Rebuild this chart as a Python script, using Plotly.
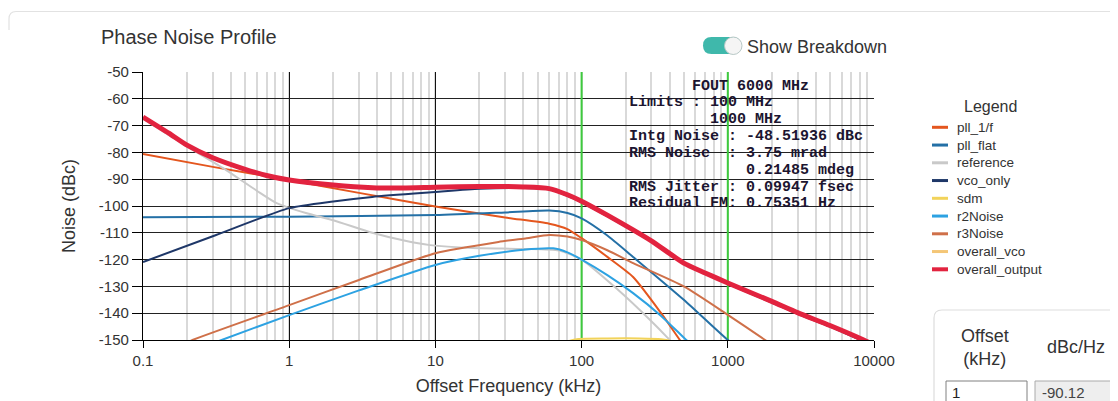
import plotly.graph_objects as go

# ---------------- data ----------------
x_tick_vals = [0.1, 1, 10, 100, 1000, 10000]
x_tick_labels = ["0.1", "1", "10", "100", "1000", "10000"]
y_tick_vals = [-50, -60, -70, -80, -90, -100, -110, -120, -130, -140, -150]
y_tick_labels = ["-50", "-60", "-70", "-80", "-90", "-100", "-110", "-120", "-130", "-140", "-150"]

pll_1f_freq = [0.1, 0.3, 1, 3, 10, 30, 60, 80, 100, 150, 225, 350, 470, 600]
pll_1f_db = [-80.6, -85.4, -90.3, -95.1, -100.2, -104.3, -106.6, -108.6, -112, -119, -126.5, -140, -150, -158]

pll_flat_freq = [0.1, 1, 10, 30, 60, 80, 100, 150, 225, 500, 1000, 1200]
pll_flat_db = [-104.2, -104.0, -103.4, -102.4, -101.7, -102.6, -104.6, -111, -119, -135, -150, -153]

reference_freq = [0.1, 0.2, 0.37, 0.6, 0.82, 1.3, 2, 3.7, 6, 9.2, 18, 40, 70, 100, 175, 300, 385, 450]
reference_db = [-67.5, -77.8, -86.6, -94.3, -98.9, -102.6, -105.3, -110, -112.8, -114.6, -115.7, -116, -116.6, -120, -131, -143, -149, -153]

vco_only_freq = [0.1, 0.3, 1, 2, 3.7, 10, 20, 40, 60, 80, 100, 150, 225, 300, 500, 1000, 2000, 3000, 5000, 8500, 12000]
vco_only_db = [-120.9, -111.3, -100.8, -98.3, -96.6, -94.8, -93.6, -93.3, -93.8, -96.2, -98.6, -103.8, -109.3, -113.3, -121.5, -129, -136, -140.2, -145, -150.5, -154]

sdm_freq = [60, 80, 95, 150, 250, 350, 420, 500]
sdm_db = [-154, -150.6, -149.6, -149.4, -149.4, -149.7, -150.6, -153]

r2noise_freq = [0.3, 0.345, 1, 3, 10, 20, 40, 64, 80, 100, 150, 225, 350, 520, 600]
r2noise_db = [-151.2, -150, -140.7, -131.5, -122, -118.6, -116.3, -115.8, -117.3, -120, -125.8, -132.5, -141, -150, -153]

r3noise_freq = [0.2, 0.218, 1, 3, 10, 27, 42, 60, 80, 100, 150, 225, 500, 1000, 1800, 2100]
r3noise_db = [-151, -150, -137, -127.6, -117.6, -113.4, -112, -110.8, -111.4, -112.7, -116.5, -121.3, -130, -140.6, -150, -152.5]

overall_vco_freq = []
overall_vco_db = []

overall_output_freq = [0.1, 0.15, 0.2, 0.3, 0.5, 0.7, 1, 2, 3.7, 6, 10, 20, 40, 60, 80, 100, 150, 225, 300, 500, 700, 1000, 2000, 3000, 5000, 8500, 12000]
overall_output_db = [-66.8, -72.8, -77.3, -82.0, -86.3, -88.6, -90.3, -92.2, -93.2, -93.3, -93.0, -92.7, -92.9, -93.5, -95.8, -98.2, -103.4, -108.9, -113, -121.3, -125.0, -128.7, -135.6, -139.8, -144.6, -150, -154]

limit_freqs = [100, 1000]

info_lines = [
    "\u00a0" * 7 + "FOUT 6000 MHz",
    "Limits : 100 MHz",
    "\u00a0" * 9 + "1000 MHz",
    "Intg Noise : -48.51936 dBc",
    "RMS Noise\u00a0\u00a0: 3.75 mrad",
    "\u00a0" * 13 + "0.21485 mdeg",
    "RMS Jitter : 0.09947 fsec",
    "Residual FM: 0.75351 Hz",
]

series = [
    ("pll_1/f", pll_1f_freq, pll_1f_db),
    ("pll_flat", pll_flat_freq, pll_flat_db),
    ("reference", reference_freq, reference_db),
    ("vco_only", vco_only_freq, vco_only_db),
    ("sdm", sdm_freq, sdm_db),
    ("r2Noise", r2noise_freq, r2noise_db),
    ("r3Noise", r3noise_freq, r3noise_db),
    ("overall_vco", overall_vco_freq, overall_vco_db),
    ("overall_output", overall_output_freq, overall_output_db),
]

# ---------------- styles ----------------
colors = {
    "pll_1/f": "#E4561E",
    "pll_flat": "#2470A6",
    "reference": "#C9C9C9",
    "vco_only": "#1E3768",
    "sdm": "#F2D35A",
    "r2Noise": "#2DA2E2",
    "r3Noise": "#CF7049",
    "overall_vco": "#F4C676",
    "overall_output": "#E2233F",
}
widths = {"overall_output": 5}
GREEN = "#3DCB3D"
FONT = "Liberation Sans, Arial, sans-serif"
MONO = "Liberation Mono, Courier New, monospace"
TXT = "#333333"

# page geometry (the html body adds an 8px margin)
PAGE_W, PAGE_H, OFF = 1118, 401, 8
W_FIG, H_FIG = PAGE_W - OFF, PAGE_H - OFF
L, R, T, B = 143, 874, 72, 340   # plot area in page pixels


def px(x):
    return (x - L) / (R - L)


def py(y):
    return (B - y) / (B - T)


fig = go.Figure()

# limit markers (green)
for f in limit_freqs:
    fig.add_trace(go.Scatter(x=[f, f], y=[-150, -48.3], mode="lines",
                             line=dict(color=GREEN, width=2), cliponaxis=False,
                             showlegend=False, hoverinfo="skip"))
fig.add_trace(go.Scatter(x=limit_freqs, y=[-48.0] * len(limit_freqs), mode="markers",
                         marker=dict(symbol="triangle-down", size=9, color=GREEN),
                         cliponaxis=False, showlegend=False, hoverinfo="skip"))

for name, fx, fy in series:
    fig.add_trace(go.Scatter(x=fx, y=fy, mode="lines", name=name,
                             line=dict(color=colors[name], width=widths.get(name, 2),
                                       shape="spline", smoothing=0.6),
                             showlegend=False))

shapes = []
annotations = []

# info text block
for i, line in enumerate(info_lines):
    annotations.append(dict(text=line, xref="paper", yref="paper",
                            x=px(627), y=py(86 + i * 16.85), xanchor="left", yanchor="middle",
                            showarrow=False,
                            font=dict(family=MONO, size=15, color="#1c1530", weight="bold")))

# chart title
annotations.append(dict(text="Phase Noise Profile", xref="paper", yref="paper",
                        x=px(99), y=py(37), xanchor="left", yanchor="middle", showarrow=False,
                        font=dict(family=FONT, size=20, color=TXT)))


def rounded_rect(x0, y0, x1, y1, r):
    return (f"M {px(x0 + r)},{py(y0)} L {px(x1 - r)},{py(y0)} Q {px(x1)},{py(y0)} {px(x1)},{py(y0 + r)} "
            f"L {px(x1)},{py(y1 - r)} Q {px(x1)},{py(y1)} {px(x1 - r)},{py(y1)} "
            f"L {px(x0 + r)},{py(y1)} Q {px(x0)},{py(y1)} {px(x0)},{py(y1 - r)} "
            f"L {px(x0)},{py(y0 + r)} Q {px(x0)},{py(y0)} {px(x0 + r)},{py(y0)} Z")


# toggle switch
shapes.append(dict(type="path", xref="paper", yref="paper", path=rounded_rect(703, 37, 741, 54, 8.5),
                   fillcolor="#3FB8AB", line=dict(width=0)))
shapes.append(dict(type="circle", xref="paper", yref="paper",
                   x0=px(724.5), x1=px(742), y0=py(54.5), y1=py(37),
                   fillcolor="#F5F5F5", line=dict(color="#B8C8C6", width=1)))
annotations.append(dict(text="Show Breakdown", xref="paper", yref="paper",
                        x=px(745), y=py(47), xanchor="left", yanchor="middle", showarrow=False,
                        font=dict(family=FONT, size=18, color=TXT)))

# faint card border at the top
shapes.append(dict(type="path", xref="paper", yref="paper",
                   path=f"M {px(9)},{py(30)} L {px(9)},{py(19)} Q {px(9)},{py(11.5)} {px(16)},{py(11.5)} L {px(1125)},{py(11.5)}",
                   line=dict(color="#E2E2E2", width=1.2)))

# legend (drawn as shapes + texts)
annotations.append(dict(text="Legend", xref="paper", yref="paper", x=px(990), y=py(106),
                        xanchor="center", yanchor="middle", showarrow=False,
                        font=dict(family=FONT, size=16, color=TXT)))
for i, (name, _, _) in enumerate(series):
    yc = 127.3 + i * 17.75
    shapes.append(dict(type="line", xref="paper", yref="paper", x0=px(932), x1=px(948),
                       y0=py(yc), y1=py(yc),
                       line=dict(color=colors[name], width=4 if name == "overall_output" else 3)))
    annotations.append(dict(text=name, xref="paper", yref="paper", x=px(955), y=py(yc),
                            xanchor="left", yanchor="middle", showarrow=False,
                            font=dict(family=FONT, size=13.5, color=TXT)))

# offset table widget (bottom right)
shapes.append(dict(type="path", xref="paper", yref="paper",
                   path=f"M {px(934)},{py(420)} L {px(934)},{py(318)} Q {px(934)},{py(310)} {px(942)},{py(310)} L {px(1130)},{py(310)}",
                   line=dict(color="#DDDDDD", width=1.2)))
annotations.append(dict(text="Offset<br>(kHz)", xref="paper", yref="paper", x=px(985), y=py(347),
                        xanchor="center", yanchor="middle", showarrow=False, align="center",
                        font=dict(family=FONT, size=18, color=TXT)))
annotations.append(dict(text="dBc/Hz", xref="paper", yref="paper", x=px(1076), y=py(347),
                        xanchor="center", yanchor="middle", showarrow=False,
                        font=dict(family=FONT, size=18, color=TXT)))
shapes.append(dict(type="rect", xref="paper", yref="paper", x0=px(946), x1=px(1027),
                   y0=py(381), y1=py(412), fillcolor="#FFFFFF", line=dict(color="#808080", width=1)))
shapes.append(dict(type="rect", xref="paper", yref="paper", x0=px(1035), x1=px(1130),
                   y0=py(381), y1=py(412), fillcolor="#EEEEEE", line=dict(color="#AAAAAA", width=1)))
annotations.append(dict(text="1", xref="paper", yref="paper", x=px(950), y=py(392),
                        xanchor="left", yanchor="middle", showarrow=False,
                        font=dict(family=FONT, size=15, color="#222")))
annotations.append(dict(text="-90.12", xref="paper", yref="paper", x=px(1040), y=py(392),
                        xanchor="left", yanchor="middle", showarrow=False,
                        font=dict(family=FONT, size=15, color="#444")))

fig.update_layout(
    width=W_FIG, height=H_FIG,
    margin=dict(l=L - OFF, r=PAGE_W - R, t=T - OFF, b=H_FIG - (B - OFF), pad=0),
    paper_bgcolor="#FFFFFF", plot_bgcolor="#FFFFFF",
    showlegend=False,
    shapes=shapes, annotations=annotations,
    font=dict(family=FONT, color=TXT),
    xaxis=dict(type="log", range=[-1, 4], tickmode="array", tickvals=x_tick_vals,
               ticktext=x_tick_labels, ticks="outside", ticklen=7, tickcolor="#000",
               showline=True, linecolor="#000", linewidth=1.2, automargin=False,
               showgrid=True, gridcolor="#111111", gridwidth=1.2, zeroline=False,
               minor=dict(dtick="D1", showgrid=True, gridcolor="#D9D9D9", gridwidth=1.6, ticks=""),
               tickfont=dict(size=15, color=TXT),
               title=dict(text="Offset Frequency (kHz)", font=dict(size=18, color=TXT), standoff=11)),
    yaxis=dict(range=[-150, -50], tickmode="array", tickvals=y_tick_vals, ticktext=y_tick_labels,
               ticks="outside", ticklen=10, automargin=False,
               tickcolor="#000", showline=True, linecolor="#000", linewidth=1.2,
               showgrid=True, gridcolor="#222222", gridwidth=1.4, zeroline=False,
               tickfont=dict(size=15, color=TXT),
               title=dict(text="Noise (dBc)", font=dict(size=18, color=TXT), standoff=18)),
)

fig.write_html("out.html")
